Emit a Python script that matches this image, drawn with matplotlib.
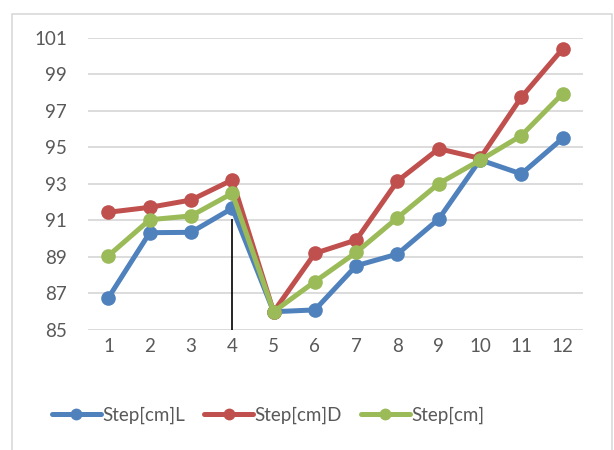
import matplotlib.pyplot as plt
from matplotlib.patches import Rectangle

plt.rcParams['font.family'] = ['Lato', 'DejaVu Sans']

steps = list(range(1, 13))
step_l = [86.77, 90.33, 90.35, 91.67, 86.0, 86.1, 88.52, 89.16, 91.08, 94.32, 93.55, 95.5]
step_d = [91.45, 91.72, 92.12, 93.22, 86.0, 89.2, 89.93, 93.16, 94.93, 94.4, 97.75, 100.4]
step_avg = [89.07, 91.04, 91.25, 92.49, 86.0, 87.65, 89.25, 91.15, 93.02, 94.3, 95.65, 97.95]
yticks = [85, 87, 89, 91, 93, 95, 97, 99, 101]

series = [("Step[cm]L", step_l, "#4F81BD"),
          ("Step[cm]D", step_d, "#C0504D"),
          ("Step[cm]", step_avg, "#9BBB59")]

fig = plt.figure(figsize=(6.14, 4.5), dpi=100)
ax = fig.add_axes([0.143, 0.2667, 0.807, 0.649])

for name, vals, col in series:
    ax.plot(steps, vals, color=col, lw=3.6, marker="o", ms=9.5, label=name,
            solid_capstyle="round", zorder=3)

# black marker line at step 4
ax.vlines(4, 85, 91.1, color="black", lw=1.2, zorder=4)

ax.set_xlim(0.5, 12.5)
ax.set_ylim(85, 101)
ax.set_xticks(steps)
ax.set_yticks(yticks)
ax.yaxis.grid(True, color="#D9D9D9", lw=1.3)
ax.set_axisbelow(True)
for s in ax.spines.values():
    s.set_visible(False)
ax.tick_params(length=0, labelsize=13.5, colors="#595959", pad=6)
ax.tick_params(axis="y", pad=15)

leg = fig.legend(loc="center", bbox_to_anchor=(0.437, 0.078), ncol=3, frameon=False,
                 fontsize=13.5, labelcolor="#595959", handlelength=2.6,
                 handletextpad=0.1, columnspacing=1.0)
for h in leg.legend_handles:
    h.set_markersize(7.5)

fig.patches.append(Rectangle((12 / 614, -0.01), 600 / 614, 441 / 450,
                             transform=fig.transFigure, fill=False,
                             edgecolor="#D9D9D9", lw=1.2))

fig.savefig("out.png", dpi=100)
